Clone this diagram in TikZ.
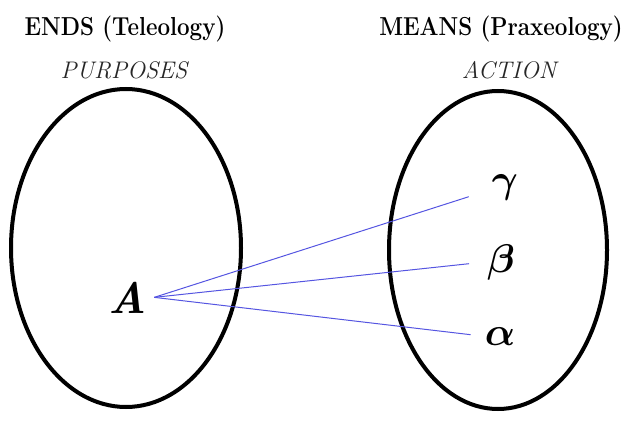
\RequirePackage{fix-cm}
\documentclass[tikz,border=0pt]{standalone}
\usepackage{amsmath}
\usepackage{amssymb}
\usepackage{graphicx}
\usepackage{tikz}
\usepackage{xcolor}
\definecolor{linkblue}{RGB}{85,85,225}
\newcommand{\headtext}[1]{\scalebox{0.86}[1]{#1}}

\begin{document}
\begin{tikzpicture}[x=1pt,y=-1pt,
  head/.style={font=\fontsize{26}{30}\selectfont\bfseries,anchor=base},
  sub/.style={font=\fontsize{24}{27}\selectfont\itshape,text=black!85,anchor=base},
  letter/.style={font=\fontsize{40}{44}\selectfont,inner sep=2pt,anchor=base},
  link/.style={linkblue,line width=1pt,shorten >=16pt}]
  \useasboundingbox (0,0) rectangle (631,420);
  \draw[line width=4pt] (126,248) ellipse [x radius=115pt,y radius=159pt];
  \draw[line width=4pt] (498,250) ellipse [x radius=109pt,y radius=159pt];
  \node[head] (ends) at (125,36) {\headtext{ENDS (Teleology)}};
  \node[sub] (purposes) at (124,78) {PURPOSES};
  \node[head] (means) at (501,36) {\headtext{MEANS (Praxeology)}};
  \node[sub] (action) at (509,78) {ACTION};
  \node[font=\fontsize{44}{48}\selectfont\bfseries\itshape,inner sep=7pt,anchor=base] (A) at (128,313) {A};
  \node[letter] (gamma) at (505,192) {$\boldsymbol{\gamma}$};
  \node[letter] (beta) at (501,272) {$\boldsymbol{\beta}$};
  \node[letter] (alpha) at (500,345) {$\boldsymbol{\alpha}$};
  \draw[link,shorten >=22pt] (A.east) -- ([yshift=-3pt]gamma.west);
  \draw[link] (A.east) -- (beta.west);
  \draw[link,shorten >=12pt] (A.east) -- (alpha.west);
\end{tikzpicture}
\end{document}
